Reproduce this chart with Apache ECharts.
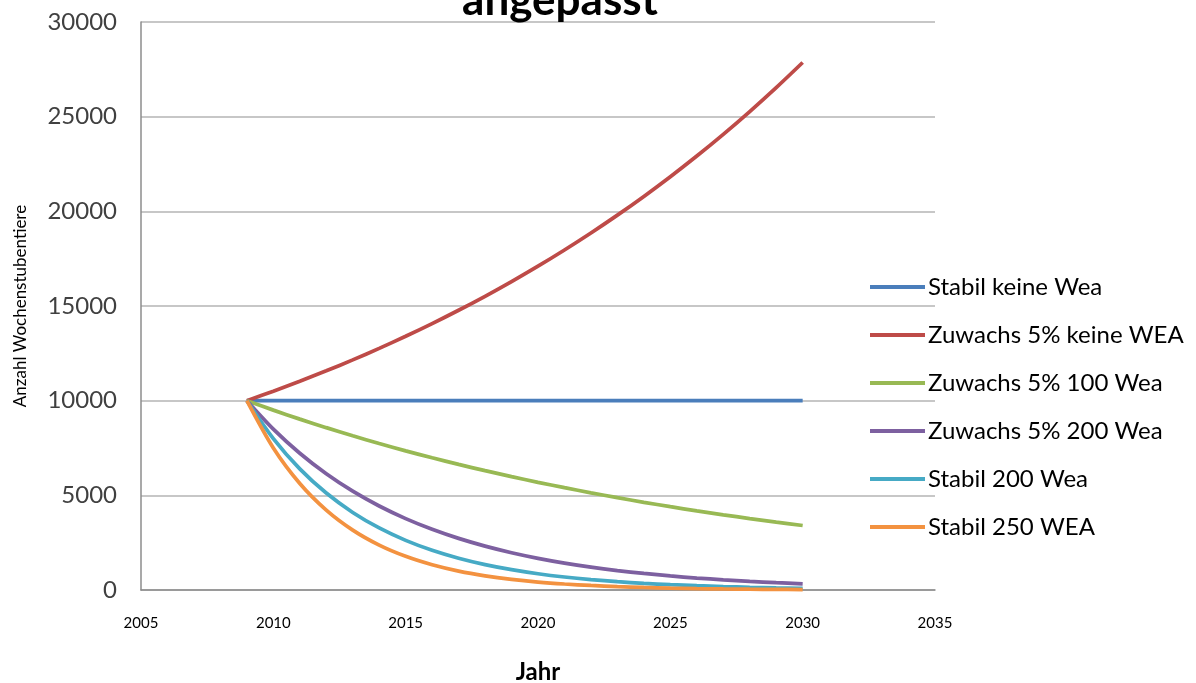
<!DOCTYPE html>
<html>
<head>
<meta charset="utf-8">
<script src="https://cdn.jsdelivr.net/npm/echarts@6/dist/echarts.min.js"></script>
<style>
  html, body { margin: 0; padding: 0; background: #ffffff; }
  #chart { width: 1196px; height: 683px; }
</style>
</head>
<body>
<div id="chart"></div>
<script>
// Jahre der Prognose
const years = [2009, 2010, 2011, 2012, 2013, 2014, 2015, 2016, 2017, 2018, 2019,
               2020, 2021, 2022, 2023, 2024, 2025, 2026, 2027, 2028, 2029, 2030];

// Anzahl Wochenstubentiere je Szenario
const stabilKeineWea = [10000, 10000, 10000, 10000, 10000, 10000, 10000, 10000, 10000, 10000, 10000,
                        10000, 10000, 10000, 10000, 10000, 10000, 10000, 10000, 10000, 10000, 10000];
const zuwachsKeineWea = [10000, 10500, 11025, 11576, 12155, 12763, 13401, 14071, 14775, 15513, 16289,
                         17103, 17959, 18856, 19799, 20789, 21829, 22920, 24066, 25270, 26533, 27860];
const zuwachs100Wea = [10000, 9500, 9025, 8574, 8145, 7738, 7351, 6983, 6634, 6302, 5987,
                       5688, 5404, 5133, 4877, 4633, 4401, 4181, 3972, 3774, 3585, 3406];
const zuwachs200Wea = [10000, 8500, 7225, 6141, 5220, 4437, 3771, 3206, 2725, 2316, 1969,
                       1673, 1422, 1209, 1028, 874, 743, 631, 536, 456, 388, 330];
const stabil200Wea = [10000, 8000, 6400, 5120, 4096, 3277, 2621, 2097, 1678, 1342, 1074,
                      859, 687, 550, 440, 352, 281, 225, 180, 144, 115, 92];
const stabil250Wea = [10000, 7500, 5625, 4219, 3164, 2373, 1780, 1335, 1001, 751, 563,
                      422, 317, 238, 178, 134, 100, 75, 56, 42, 32, 24];

// Achsenbeschriftung
const xTicks = { min: 2005, max: 2035, interval: 5 };
const yTicks = { min: 0, max: 30000, interval: 5000 };

const seriesDefs = [
  { name: 'Stabil keine Wea',      values: stabilKeineWea,  color: '#4A7EBB' },
  { name: 'Zuwachs 5% keine WEA',  values: zuwachsKeineWea, color: '#BE4B48' },
  { name: 'Zuwachs 5% 100 Wea',    values: zuwachs100Wea,   color: '#98B954' },
  { name: 'Zuwachs 5% 200 Wea',    values: zuwachs200Wea,   color: '#7D60A0' },
  { name: 'Stabil 200 Wea',        values: stabil200Wea,    color: '#46AAC5' },
  { name: 'Stabil 250 WEA',        values: stabil250Wea,    color: '#F39240' }
];

const FONT = 'Lato, "Open Sans", sans-serif';

const chart = echarts.init(document.getElementById('chart'), null, { renderer: 'canvas' });

chart.setOption({
  backgroundColor: '#ffffff',
  animation: false,
  title: {
    text: 'angepasst',
    left: 555,
    textAlign: 'center',
    top: -26,
    textStyle: { fontFamily: FONT, fontSize: 44, fontWeight: 'bold', color: '#000000' }
  },
  grid: {
    left: 141, right: 261, top: 22, bottom: 93,
    containLabel: false,
    outerBoundsMode: 'none'
  },
  legend: {
    orient: 'vertical',
    left: 865,
    top: 270,
    icon: 'rect',
    itemWidth: 55,
    itemHeight: 4,
    itemGap: 24,
    selectedMode: false,
    textStyle: { fontFamily: FONT, fontSize: 24, color: '#000000', lineHeight: 24, padding: [0, 0, 0, -2] },
    data: seriesDefs.map(s => s.name)
  },
  xAxis: {
    type: 'value',
    min: xTicks.min,
    max: xTicks.max,
    interval: xTicks.interval,
    name: 'Jahr',
    nameLocation: 'middle',
    nameGap: 70,
    nameTextStyle: { fontFamily: FONT, fontSize: 24, fontWeight: 'bold', color: '#000000' },
    axisLine: { lineStyle: { color: '#8c8c8c', width: 1.5 } },
    axisTick: { show: false },
    splitLine: { show: false },
    axisLabel: {
      fontFamily: FONT, fontSize: 15, color: '#000000', margin: 26,
      formatter: v => String(v)
    }
  },
  yAxis: {
    type: 'value',
    min: yTicks.min,
    max: yTicks.max,
    interval: yTicks.interval,
    name: 'Anzahl Wochenstubentiere',
    nameLocation: 'middle',
    nameRotate: 90,
    nameGap: 112,
    nameTextStyle: { fontFamily: FONT, fontSize: 17, color: '#000000' },
    axisLine: { show: true, lineStyle: { color: '#8c8c8c', width: 1.5 } },
    axisTick: { show: false },
    splitLine: { lineStyle: { color: '#b4b4b4', width: 1.5 } },
    axisLabel: {
      fontFamily: FONT, fontSize: 24, color: '#404040', margin: 24,
      formatter: v => String(v)
    }
  },
  series: seriesDefs.map(s => ({
    name: s.name,
    type: 'line',
    data: years.map((y, i) => [y, s.values[i]]),
    smooth: 0.3,
    symbol: 'none',
    color: s.color,
    lineStyle: { color: s.color, width: 3.75 },
    z: 3
  }))
});
</script>
</body>
</html>
